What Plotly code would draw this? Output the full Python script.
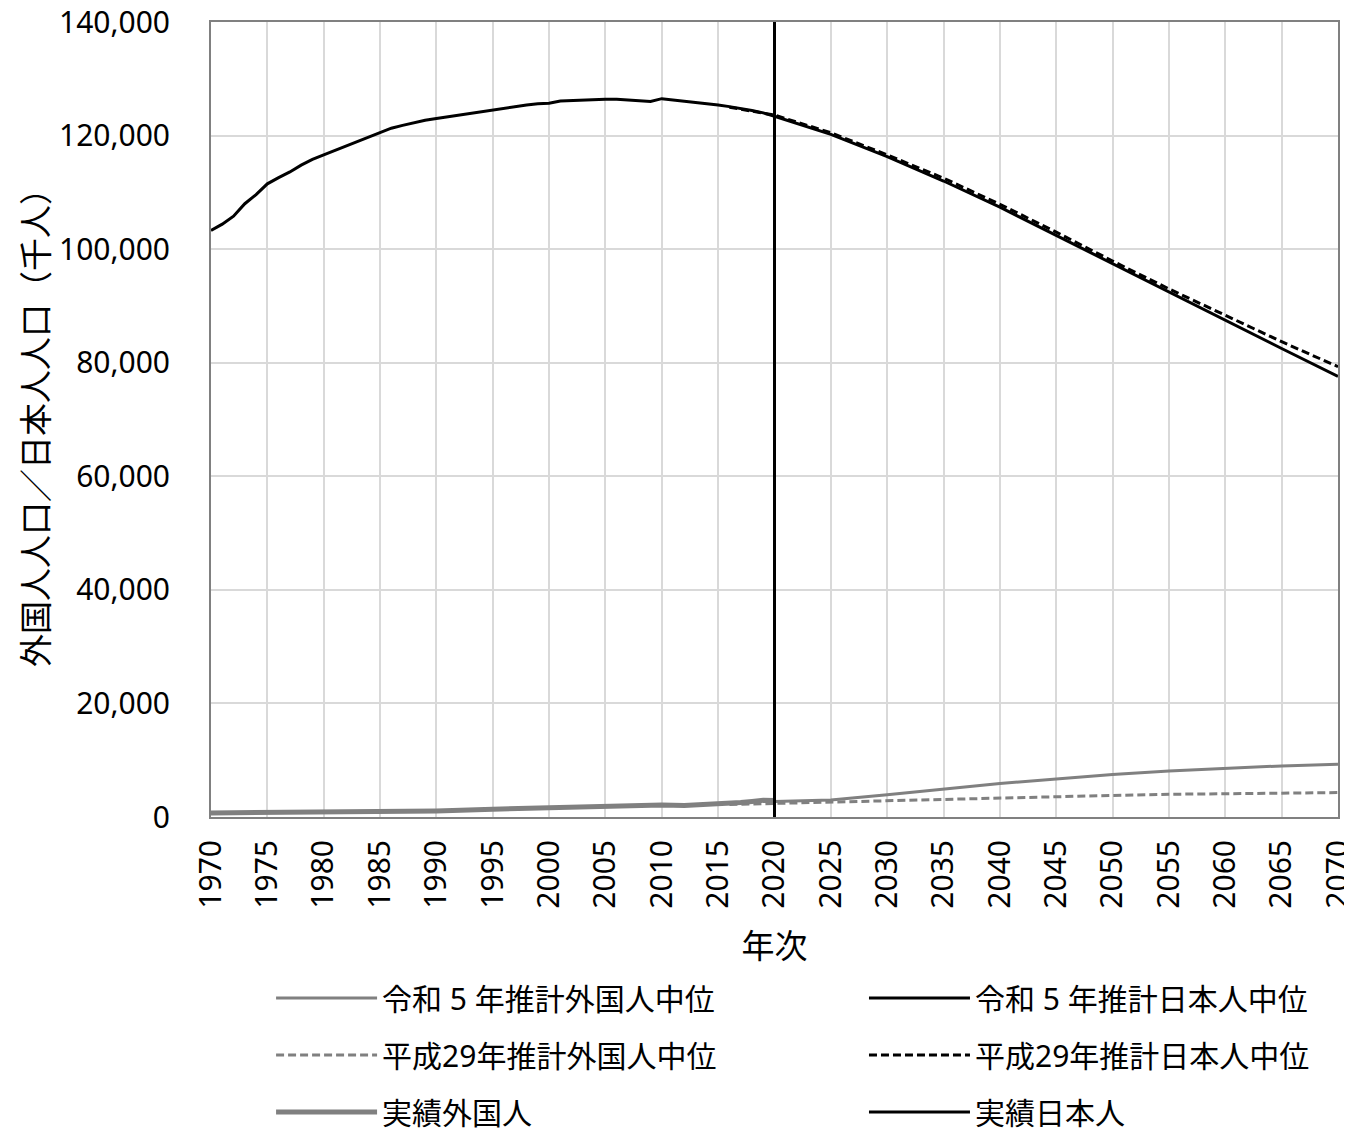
import plotly.graph_objects as go

# ---------------- data (thousands of persons) ----------------
actual_years = list(range(1970, 2021))
actual_japanese = [103.3, 104.4, 105.8, 108.0, 109.6, 111.5, 112.6, 113.6, 114.8, 115.8,
                   116.6, 117.4, 118.2, 119.0, 119.8, 120.6, 121.3, 121.8, 122.3, 122.7,
                   123.0, 123.3, 123.7, 124.0, 124.3, 124.6, 124.9, 125.1, 125.4, 125.6,
                   125.7, 126.1, 126.2, 126.3, 126.3, 126.4, 126.4, 126.3, 126.1, 126.0,
                   126.5, 126.3, 126.1, 125.9, 125.7, 125.4, 125.1, 124.8, 124.4, 124.0,
                   123.4]
actual_japanese = [v * 1000 for v in actual_japanese]

foreign_years = [1970, 1975, 1980, 1985, 1990, 1995, 2000, 2005, 2008, 2010,
                 2012, 2015, 2016, 2017, 2018, 2019, 2020]
actual_foreign = [708, 751, 783, 851, 1075, 1362, 1686, 2012, 2217, 2134,
                  2034, 2232, 2383, 2562, 2731, 2933, 2887]

r5_years = [2020, 2025, 2030, 2035, 2040, 2045, 2050, 2055, 2060, 2065, 2070]
r5_japanese = [123.4, 120.2, 116.3, 112.0, 107.4, 102.4, 97.4, 92.4, 87.4, 82.5, 77.6]
r5_japanese = [v * 1000 for v in r5_japanese]
r5_foreign = [2.75, 3.0, 3.9, 4.9, 5.9, 6.7, 7.5, 8.1, 8.6, 9.0, 9.3]
r5_foreign = [v * 1000 for v in r5_foreign]

h29_years = [2016, 2020, 2025, 2030, 2035, 2040, 2045, 2050, 2055, 2060, 2065, 2070]
h29_japanese = [125.0, 123.6, 120.5, 116.6, 112.5, 107.9, 103.0, 97.9, 93.0, 88.3, 83.7, 79.3]
h29_japanese = [v * 1000 for v in h29_japanese]
h29_foreign = [2.2, 2.4, 2.6, 2.8, 3.1, 3.4, 3.6, 3.8, 4.0, 4.1, 4.2, 4.3]
h29_foreign = [v * 1000 for v in h29_foreign]

BASE_YEAR = 2020
x_ticks = list(range(1970, 2071, 5))
y_ticks = list(range(0, 140001, 20000))

# ---------------- styles ----------------
GRAY = "#808080"
BLACK = "#000000"
FONT = "Noto Sans, Noto Sans CJK JP, sans-serif"

fig = go.Figure()

fig.add_trace(go.Scatter(x=r5_years, y=r5_foreign, mode="lines", name="令和 5 年推計外国人中位",
                         line=dict(color=GRAY, width=3), legend="legend"))
fig.add_trace(go.Scatter(x=r5_years, y=r5_japanese, mode="lines", name="令和 5 年推計日本人中位",
                         line=dict(color=BLACK, width=3), legend="legend2"))
fig.add_trace(go.Scatter(x=h29_years, y=h29_foreign, mode="lines", name="平成29年推計外国人中位",
                         line=dict(color=GRAY, width=3, dash="8px,4px"), legend="legend3"))
fig.add_trace(go.Scatter(x=h29_years, y=h29_japanese, mode="lines", name="平成29年推計日本人中位",
                         line=dict(color=BLACK, width=3, dash="8px,4px"), legend="legend4"))
fig.add_trace(go.Scatter(x=foreign_years, y=actual_foreign, mode="lines", name="実績外国人",
                         line=dict(color=GRAY, width=5), legend="legend5"))
fig.add_trace(go.Scatter(x=actual_years, y=actual_japanese, mode="lines", name="実績日本人",
                         line=dict(color=BLACK, width=3), legend="legend6"))

fig.add_vline(x=BASE_YEAR, line=dict(color=BLACK, width=3), layer="above")

legend_common = dict(orientation="h", xanchor="left", yanchor="middle",
                     itemwidth=101, font=dict(family=FONT, size=30, color="#000"),
                     bgcolor="rgba(0,0,0,0)")
LEFT_X, RIGHT_X = 0.0533, 0.5794
ROW_Y = [-0.2277, -0.2994, -0.371]

fig.update_layout(
    width=1344, height=1120,
    margin=dict(l=203, r=14, t=14, b=311, autoexpand=False),
    paper_bgcolor="white", plot_bgcolor="white",
    font=dict(family=FONT, size=30, color="#000"),
    showlegend=True,
    legend=dict(legend_common, x=LEFT_X, y=ROW_Y[0]),
    legend2=dict(legend_common, x=RIGHT_X, y=ROW_Y[0]),
    legend3=dict(legend_common, x=LEFT_X, y=ROW_Y[1]),
    legend4=dict(legend_common, x=RIGHT_X, y=ROW_Y[1]),
    legend5=dict(legend_common, x=LEFT_X, y=ROW_Y[2]),
    legend6=dict(legend_common, x=RIGHT_X, y=ROW_Y[2]),
    xaxis=dict(
        range=[1970, 2070], tickmode="array", tickvals=x_ticks, ticktext=[str(v) for v in x_ticks],
        tickangle=-90, showgrid=True, gridcolor="#d9d9d9", gridwidth=2,
        showline=True, linecolor=GRAY, linewidth=2, mirror=True,
        ticks="", ticklabelstandoff=9, ticklabeloverflow="allow", zeroline=False,
        tickfont=dict(family=FONT, size=30, color="#000"),
        title=dict(text="年次", font=dict(family=FONT, size=33, color="#000"), standoff=27),
        automargin=False,
    ),
    yaxis=dict(
        range=[0, 140000], tickmode="array", tickvals=y_ticks, tickformat=",",
        showgrid=True, gridcolor="#d9d9d9", gridwidth=2,
        showline=True, linecolor=GRAY, linewidth=2, mirror=True,
        ticks="", ticklabelstandoff=33, ticklabeloverflow="allow", zeroline=False,
        tickfont=dict(family=FONT, size=30, color="#000"),
        title=dict(text="外国人人口／日本人人口（千人）", font=dict(family=FONT, size=33, color="#000"), standoff=0),
        automargin=False,
    ),
)

fig.write_html("out.html")
